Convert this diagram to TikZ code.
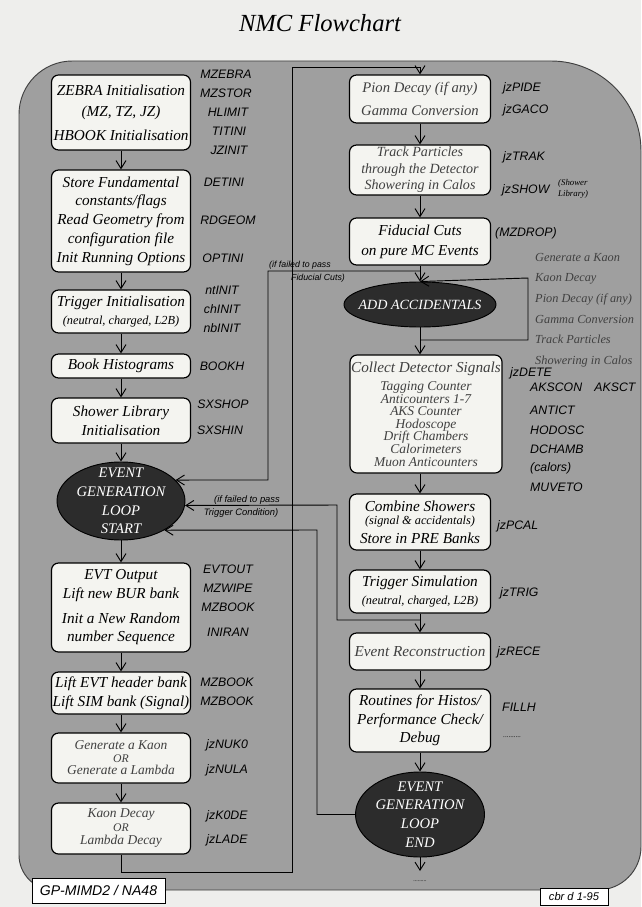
\documentclass[tikz,border=0pt]{standalone}
\usepackage{fontspec}
\setmainfont{Liberation Serif}
\setsansfont{Liberation Sans}
\usepackage{xcolor}
\usepackage{tikz}
\usetikzlibrary{arrows.meta,positioning,shapes.geometric,calc}

\definecolor{pagebg}{HTML}{EEEEEC}
\definecolor{panelgray}{HTML}{9F9F9F}
\definecolor{boxfill}{HTML}{F4F4F0}
\definecolor{loopfill}{HTML}{2C2C2C}

\begin{document}
\begin{tikzpicture}[
  x=0.03cm, y=-0.03cm,
  stepbox/.style={draw, line width=1pt, rounded corners=6pt, fill=boxfill, inner sep=0pt, align=center, minimum width=4.17cm, font=\fontsize{13}{16}\selectfont\itshape},
  rstep/.style={stepbox, minimum width=4.23cm},
  light/.style={text=black!75},
  loopell/.style={ellipse, draw, line width=0.8pt, fill=loopfill, inner sep=0pt},
  looptext/.style={text=white, align=center, font=\fontsize{12.5}{16}\selectfont\itshape},
  tag/.style={font=\fontsize{10.5}{12}\selectfont\sffamily\itshape, inner sep=0pt},
  note/.style={font=\fontsize{7.5}{8.5}\selectfont\sffamily\itshape, inner sep=0pt},
  arrow/.style={-{Straight Barb[length=2.4mm,width=3mm]}, line width=0.8pt},
  stamp/.style={draw, line width=0.6pt, fill=white, inner sep=0pt, font=\sffamily\itshape}
]
\useasboundingbox (0,0) rectangle (641,907);
\fill[pagebg] (0,0) rectangle (641,907);
\node[font=\fontsize{21}{25}\selectfont\itshape] (title) at (320,23) {NMC Flowchart};

% grey panel behind the chart
\filldraw[fill=panelgray, draw=black!75, line width=0.8pt]
  (19,400) [rounded corners=1.6cm] -- (19,61) [rounded corners=2.7cm] -- (641,61)
  [rounded corners=1.3cm] -- (641,890) [rounded corners=1.05cm] -- (19,890) -- cycle;

% left column: initialisation and event start
\node[stepbox, minimum height=2.25cm, font=\fontsize{13}{18}\selectfont\itshape] (zebra) at (121,112.5) {ZEBRA Initialisation\\(MZ, TZ, JZ)\\[2.5pt]HBOOK Initialisation};
\node[stepbox, minimum height=3.06cm] (store) at (121,221) {Store Fundamental\\constants/flags\\Read Geometry from\\configuration file\\Init Running Options};
\node[stepbox, minimum height=1.29cm] (trig) at (121,311.5) {Trigger Initialisation\\{\fontsize{10.5}{12}\selectfont(neutral, charged, L2B)}};
\node[stepbox, minimum height=0.72cm] (book) at (121,366) {Book Histograms};
\node[stepbox, minimum height=1.35cm] (shlib) at (121,420.5) {Shower Library\\Initialisation};
\node[loopell, minimum width=3.84cm, minimum height=2.34cm] (start) at (121,501) {};
\node[looptext] at (start) {EVENT\\GENERATION\\LOOP\\START};
\node[stepbox, minimum height=2.67cm] (evtout) at (121,607.5) {EVT Output\\Lift new BUR bank\\[5pt]Init a New Random\\number Sequence};
\node[stepbox, minimum height=1.26cm, font=\fontsize{13}{16.5}\selectfont\itshape] (lift) at (121,693) {Lift EVT header bank\\Lift SIM bank (Signal)};
\node[stepbox, light, minimum height=1.5cm, font=\fontsize{11.5}{10.7}\selectfont\itshape] (gen) at (121,758) {Generate a Kaon\\{\fontsize{10}{10}\selectfont OR}\\Generate a Lambda};
\node[stepbox, light, minimum height=1.53cm, font=\fontsize{11.5}{11.5}\selectfont\itshape] (kdec) at (121,828.5) {Kaon Decay\\{\fontsize{10}{10}\selectfont OR}\\Lambda Decay};

\draw[arrow] (zebra) -- (store);
\draw[arrow] (store) -- (trig);
\draw[arrow] (trig) -- (book);
\draw[arrow] (book) -- (shlib);
\draw[arrow] (shlib) -- (start);
\draw[arrow] (start) -- (evtout);
\draw[arrow] (evtout) -- (lift);
\draw[arrow] (lift) -- (gen);
\draw[arrow] (gen) -- (kdec);

\node[tag] at (226,74) {MZEBRA};
\node[tag] at (226,93) {MZSTOR};
\node[tag] at (228,112) {HLIMIT};
\node[tag] at (229,131) {TITINI};
\node[tag] at (229,150) {JZINIT};
\node[tag] at (224,182) {DETINI};
\node[tag] at (228,220) {RDGEOM};
\node[tag] at (223,258) {OPTINI};
\node[tag] at (222,290) {ntINIT};
\node[tag] at (222,309) {chINIT};
\node[tag] at (222,328) {nbINIT};
\node[tag] at (222,366) {BOOKH};
\node[tag] at (223,404) {SXSHOP};
\node[tag] at (220,430) {SXSHIN};
\node[tag] at (228,569) {EVTOUT};
\node[tag] at (228,588) {MZWIPE};
\node[tag] at (228,607) {MZBOOK};
\node[tag] at (228,632) {INIRAN};
\node[tag] at (227,682) {MZBOOK};
\node[tag] at (227,701) {MZBOOK};
\node[tag] at (227,745) {jzNUK0};
\node[tag] at (227,770) {jzNULA};
\node[tag] at (227,816) {jzK0DE};
\node[tag] at (227,840) {jzLADE};

% right column: tracking, accidentals, trigger, reconstruction
\node[rstep, light, minimum height=1.44cm, font=\fontsize{12.5}{19}\selectfont\itshape] (pion) at (420,99) {Pion Decay (if any)\\Gamma Conversion};
\node[rstep, light, minimum height=1.5cm, font=\fontsize{12}{14}\selectfont\itshape] (track) at (420,170) {Track Particles\\through the Detector\\Showering in Calos};
\node[rstep, minimum height=1.41cm, font=\fontsize{13}{17}\selectfont\itshape] (fid) at (420,241.5) {Fiducial Cuts\\on pure MC Events};
\node[loopell, minimum width=4.56cm, minimum height=1.35cm] (add) at (420,304.5) {};
\node[looptext, font=\fontsize{12}{14}\selectfont\itshape] at (add) {ADD ACCIDENTALS};
\node[stepbox, light, minimum width=4.56cm, minimum height=3.54cm, font=\fontsize{11.5}{10.7}\selectfont\itshape] (collect) at (426,414) {{\fontsize{13}{13}\selectfont Collect Detector Signals}\\[5pt]Tagging Counter\\Anticounters 1-7\\AKS Counter\\Hodoscope\\Drift Chambers\\Calorimeters\\Muon Anticounters};
\node[rstep, minimum height=1.68cm, font=\fontsize{13}{11.5}\selectfont\itshape] (comb) at (420,522) {Combine Showers\\{\fontsize{10.5}{12}\selectfont(signal \& accidentals)}\\[4.5pt]Store in PRE Banks};
\node[rstep, minimum height=1.29cm, font=\fontsize{13}{15.5}\selectfont\itshape] (tsim) at (420,591.5) {Trigger Simulation\\{\fontsize{10.5}{12}\selectfont(neutral, charged, L2B)}};
\node[rstep, light, minimum height=1.11cm] (reco) at (420,651.5) {Event Reconstruction};
\node[rstep, minimum height=1.89cm] (rout) at (420,720.5) {Routines for Histos/\\Performance Check/\\Debug};
\node[loopell, minimum width=3.87cm, minimum height=2.55cm] (endell) at (420,814.5) {};
\node[looptext] at (endell) {EVENT\\GENERATION\\LOOP\\END};

\coordinate (fidj) at (420,271);
\coordinate (accj) at (420,340);
\coordinate (trigj) at (420,620);
\coordinate (endout) at (420,871);
\draw[arrow] (pion) -- (track);
\draw[arrow] (track) -- (fid);
\draw[arrow] (fid) -- (add);
\draw[arrow] (add.south) -- (add.south |- collect.north);
\draw[arrow] (collect.south -| comb.north) -- (comb);
\draw[arrow] (comb) -- (tsim);
\draw[arrow] (tsim) -- (reco);
\draw[arrow] (reco) -- (rout);
\draw[arrow] (rout) -- (endell);
\draw[arrow] (endell) -- (endout);
\node[font=\fontsize{5}{6}\selectfont] (enddots) at (420,881) {.........};

\node[tag, anchor=west] at (503,88) {jzPIDE};
\node[tag, anchor=west] at (503,110) {jzGACO};
\node[tag, anchor=west] at (503,157) {jzTRAK};
\node[tag, anchor=west] at (502,190) {jzSHOW};
\node[anchor=west, inner sep=0pt, align=left, font=\fontsize{7.5}{9}\selectfont\itshape] at (558,189) {(Shower\\Library)};
\node[tag, anchor=west] at (495,233) {(MZDROP)};
\node[anchor=west, inner sep=0pt, align=left, light, font=\fontsize{10.5}{17.6}\selectfont\itshape] at (535,310) {Generate a Kaon\\Kaon Decay\\Pion Decay (if any)\\Gamma Conversion\\Track Particles\\Showering in Calos};
\node[tag, anchor=west] at (510,373) {jzDETE};
\node[tag, anchor=west] at (530,387) {AKSCON\quad AKSCT};
\node[tag, anchor=west] at (530,410) {ANTICT};
\node[tag, anchor=west] at (530,430) {HODOSC};
\node[tag, anchor=west] at (530,449) {DCHAMB};
\node[tag, anchor=west] at (530,468) {(calors)};
\node[tag, anchor=west] at (530,487) {MUVETO};
\node[tag, anchor=west] at (497,526) {jzPCAL};
\node[tag, anchor=west] at (500,593) {jzTRIG};
\node[tag, anchor=west] at (497,652) {jzRECE};
\node[tag, anchor=west] at (502,707) {FILLH};
\node[tag, anchor=west, font=\fontsize{6}{6}\selectfont] at (503,737) {..........};

% loops back to the event start
\coordinate (mainturn) at (292,67);
\coordinate (accturn) at (528,278);
\coordinate (fidturn) at (268,480);
\coordinate (trigturn) at (337,505);
\coordinate (endturn) at (317,530);
\draw[arrow] (kdec.south) -- ++(0,18) -| (mainturn) -| (pion.north);
\draw[arrow] (accj) -| (accturn) -- (add.north);
\draw[arrow] (fidj) -| (fidturn) -- (start.21);
\draw[arrow] (trigj) -| (trigturn) -- (start.-4);
\draw[arrow] (endell.west) -| (endturn) -- (start.-34);

\node[note] at (300,265) {(if failed to pass};
\node[note] at (318,278) {Fiducial Cuts)};
\node[note, font=\fontsize{8}{9}\selectfont\sffamily\itshape] at (247,500) {(if failed to pass};
\node[note, font=\fontsize{8}{9}\selectfont\sffamily\itshape] at (241,513) {Trigger Condition)};

% stamps at the foot
\node[stamp, minimum width=3.99cm, minimum height=0.75cm, font=\fontsize{12}{14}\selectfont\sffamily\itshape] (gpmimd) at (98.5,890.5) {GP-MIMD2 / NA48};
\node[stamp, minimum width=2.04cm, minimum height=0.51cm, font=\fontsize{9.5}{10}\selectfont\sffamily\itshape] (cbrd) at (574,896.5) {cbr d 1-95};
\end{tikzpicture}
\end{document}
